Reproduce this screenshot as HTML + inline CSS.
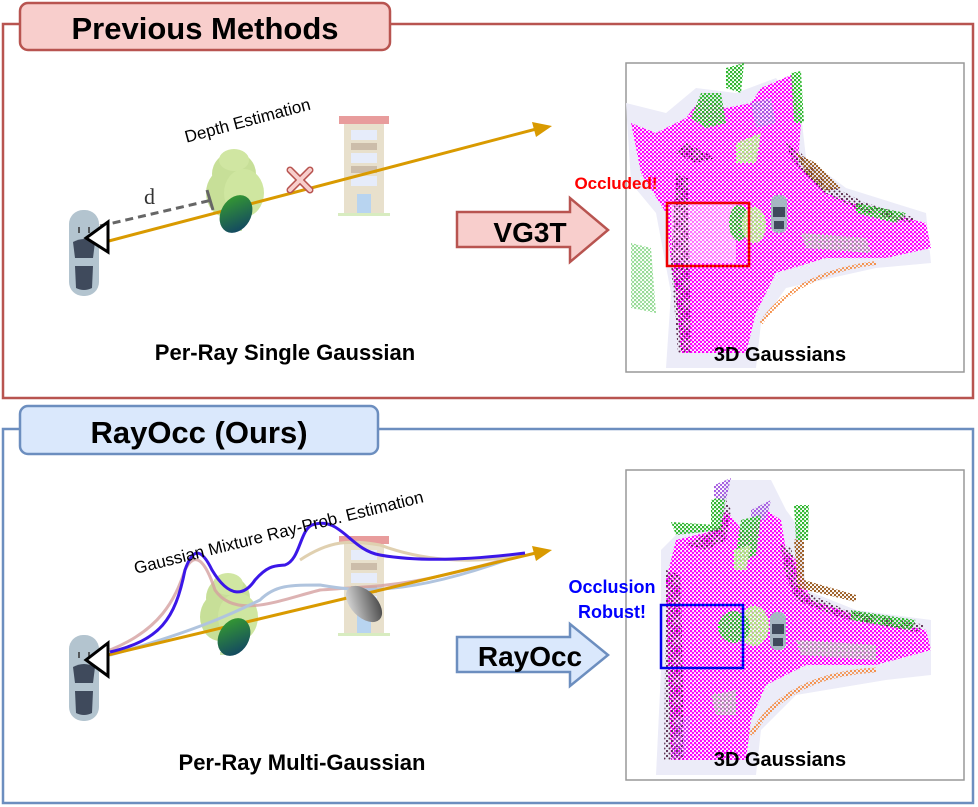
<!DOCTYPE html>
<html><head><meta charset="utf-8"><style>
body{margin:0;background:#fff;}
svg{display:block;font-family:"Liberation Sans","DejaVu Sans",sans-serif;}
</style></head><body>
<svg width="978" height="807" viewBox="0 0 978 807" xmlns="http://www.w3.org/2000/svg">
<defs>
<pattern id="pm" width="4" height="4" patternUnits="userSpaceOnUse"><circle cx="1" cy="1" r="1.3" fill="#f0f"/><circle cx="3" cy="3" r="1.2" fill="#f0f"/></pattern>
<pattern id="pg" width="4" height="4" patternUnits="userSpaceOnUse"><circle cx="1" cy="1" r="1.3" fill="#2eb82e"/><circle cx="3" cy="3" r="1.1" fill="#2eb82e"/></pattern>
<pattern id="plg" width="4" height="4" patternUnits="userSpaceOnUse"><circle cx="1" cy="1" r="1.3" fill="#a8e67a"/><circle cx="3" cy="3" r="1.1" fill="#a8e67a"/></pattern>
<pattern id="pb" width="5" height="5" patternUnits="userSpaceOnUse"><circle cx="1" cy="1" r="1.1" fill="#5a2d4e"/><circle cx="3.5" cy="3.5" r="1" fill="#5a2d4e"/></pattern>
<pattern id="pbr" width="4" height="4" patternUnits="userSpaceOnUse"><circle cx="1" cy="1" r="1.2" fill="#9a5a20"/><circle cx="3" cy="3" r="1.1" fill="#9a5a20"/></pattern>
<pattern id="pgr" width="4" height="4" patternUnits="userSpaceOnUse"><circle cx="1" cy="1" r="1.1" fill="#a0a0a0"/><circle cx="3" cy="3" r="1" fill="#a0a0a0"/></pattern>
<pattern id="por" width="4" height="4" patternUnits="userSpaceOnUse"><circle cx="1" cy="1" r="1.1" fill="#f58a40"/><circle cx="3" cy="3" r="1" fill="#f58a40"/></pattern>
<pattern id="ppu" width="4" height="4" patternUnits="userSpaceOnUse"><circle cx="1" cy="1" r="1.2" fill="#a55ae0"/><circle cx="3" cy="3" r="1.1" fill="#a55ae0"/></pattern>
<linearGradient id="gg" x1="0" y1="0" x2="1" y2="1"><stop offset="0" stop-color="#3aa52a"/><stop offset="1" stop-color="#0d3a6a"/></linearGradient>
<linearGradient id="gr" x1="0" y1="0" x2="1" y2="1"><stop offset="0" stop-color="#eee"/><stop offset="1" stop-color="#333"/></linearGradient>
<g id="car">
<rect x="-15" y="-42" width="30" height="86" rx="14" fill="#b3c4cf"/>
<path d="M-11,-10 Q0,-16 11,-10 L9,6 L-9,6Z" fill="#3f4a5c"/>
<path d="M-9,14 L9,14 L8,36 Q0,40 -8,36Z" fill="#3f4a5c"/>
<line x1="-5" y1="-25" x2="-5" y2="-19" stroke="#333" stroke-width="1.5"/><line x1="5" y1="-25" x2="5" y2="-19" stroke="#333" stroke-width="1.5"/>
</g>
<g id="minicar">
<rect x="-8" y="-18" width="16" height="38" rx="7" fill="#a6b6c2"/>
<rect x="-6" y="-6" width="12" height="10" fill="#3f4a5c"/>
<rect x="-5" y="8" width="10" height="8" fill="#3f4a5c"/>
</g>
<g id="tree">
<rect x="-4" y="20" width="7" height="22" fill="#c9968e"/>
<rect x="-8" y="40" width="16" height="3" fill="#cfe6b0"/>
<ellipse cx="0" cy="-14" rx="22" ry="22" fill="#c7df98"/>
<ellipse cx="-8" cy="5" rx="20" ry="24" fill="#c7df98"/>
<ellipse cx="10" cy="5" rx="20" ry="24" fill="#cfe6a0"/>
<ellipse cx="0" cy="-28" rx="15" ry="11" fill="#d0e6a2"/>
</g>
<g id="bld">
<rect x="-25" y="0" width="50" height="8" fill="#e89c9c"/>
<rect x="-20" y="8" width="40" height="90" fill="#e8e0cc"/>
<rect x="-13" y="14" width="26" height="10" fill="#e6ecfa"/>
<rect x="-13" y="27" width="26" height="7" fill="#ccbdaa"/>
<rect x="-13" y="37" width="26" height="10" fill="#e6ecfa"/>
<rect x="-13" y="50" width="26" height="7" fill="#ccbdaa"/>
<rect x="-13" y="60" width="26" height="10" fill="#e6ecfa"/>
<rect x="-7" y="78" width="14" height="20" fill="#b8d4f0"/>
<rect x="-26" y="97" width="52" height="3" fill="#d8ecc0"/>
</g>
<g id="cloud1">
<polygon points="0,40 40,50 70,25 110,30 150,15 175,50 180,95 220,125 300,150 305,200 250,205 160,225 135,260 130,305 40,305 45,230 30,150 5,120" fill="#ececf8"/>
<polygon points="5,60 30,70 60,55 75,35 100,45 125,40 135,25 165,12 175,60 172,100 200,130 240,145 300,160 305,185 260,195 200,195 150,210 130,250 120,290 55,290 50,230 45,200 40,150 15,110" fill="#fff"/>
<polygon points="5,60 30,70 60,55 75,35 100,45 125,40 135,25 165,12 175,60 172,100 200,130 240,145 300,160 305,185 260,195 200,195 150,210 130,250 120,290 55,290 50,230 45,200 40,150 15,110" fill="url(#pm)"/>
<polygon points="45,140 110,140 110,200 45,200" fill="#fff" opacity="0.45"/>
<polygon points="60,80 90,95 70,100 50,90" fill="url(#pb)"/>
<polygon points="50,110 62,115 65,290 52,290 45,200" fill="url(#pb)"/>
<polygon points="160,80 175,90 200,120 240,140 290,155 285,160 235,148 195,128 165,95" fill="url(#pb)"/>
<polygon points="170,90 190,100 215,125 200,128 180,110" fill="url(#pbr)"/>
<polygon points="75,30 95,30 100,60 80,65 65,55" fill="url(#pg)"/>
<polygon points="100,5 118,0 115,30 100,25" fill="url(#pg)"/>
<polygon points="165,10 175,8 178,60 168,60" fill="url(#pg)"/>
<polygon points="125,40 145,35 150,60 130,65" fill="url(#ppu)"/>
<polygon points="230,140 280,150 270,160 230,150" fill="url(#pg)"/>
<ellipse cx="113" cy="160" rx="10" ry="18" fill="url(#pg)"/>
<ellipse cx="128" cy="162" rx="12" ry="18" fill="url(#plg)"/>
<polygon points="110,80 135,70 130,100 110,100" fill="url(#plg)"/>
<polygon points="175,170 240,175 245,190 180,185" fill="url(#pgr)"/>
<path d="M135,260 Q170,210 250,200" fill="none" stroke="url(#por)" stroke-width="4"/>
<polygon points="5,180 25,185 30,250 5,245" fill="url(#pg)" opacity="0.5"/>
<use href="#minicar" x="153" y="150"/>
</g>
<g id="cloud2">
<polygon points="35,80 55,60 90,60 100,10 145,10 160,40 175,60 180,120 230,140 305,150 305,205 260,210 170,225 135,260 130,305 30,305 35,200" fill="#ececf8"/>
<polygon points="50,70 90,60 100,40 120,65 140,40 155,50 160,80 170,90 185,130 230,145 300,160 305,180 250,195 180,195 140,215 125,250 120,290 45,290 42,200 40,110" fill="#fff"/>
<polygon points="50,70 90,60 100,40 120,65 140,40 155,50 160,80 170,90 185,130 230,145 300,160 305,180 250,195 180,195 140,215 125,250 120,290 45,290 42,200 40,110" fill="url(#pm)"/>
<polygon points="40,100 55,105 58,290 38,290" fill="url(#pb)"/>
<polygon points="60,75 95,55 100,30 105,40 100,70 80,80" fill="url(#pb)"/>
<polygon points="155,75 165,78 175,120 220,140 300,155 290,162 215,148 170,130 158,100" fill="url(#pb)"/>
<polygon points="168,70 178,65 178,110 230,125 230,132 172,118" fill="url(#pbr)"/>
<polygon points="45,52 90,55 95,60 50,65" fill="url(#pg)"/>
<polygon points="85,30 100,25 95,60 85,58" fill="url(#pg)"/>
<polygon points="88,15 105,8 100,30 88,28" fill="url(#ppu)"/>
<polygon points="125,40 145,30 140,50 125,50" fill="url(#ppu)"/>
<polygon points="115,50 135,45 130,85 108,95" fill="url(#pg)"/>
<polygon points="108,80 125,75 120,100 108,100" fill="url(#plg)"/>
<polygon points="168,35 183,35 182,70 170,70" fill="url(#pg)"/>
<polygon points="225,140 290,150 285,160 225,150" fill="url(#pg)"/>
<ellipse cx="128" cy="156" rx="15" ry="20" fill="url(#plg)"/>
<circle cx="108" cy="157" r="16" fill="url(#pg)"/>
<polygon points="170,170 250,175 250,190 175,185" fill="url(#pgr)"/>
<polygon points="85,225 110,220 110,245 90,245" fill="url(#pgr)"/>
<path d="M125,265 Q160,205 250,200" fill="none" stroke="url(#por)" stroke-width="5"/>
<polygon points="50,250 65,245 60,285 45,290" fill="url(#ppu)" opacity="0.4"/>
<use href="#minicar" x="152" y="160"/>
</g>
</defs>

<rect x="3" y="24" width="970" height="374" fill="#fff" stroke="#b85450" stroke-width="2.5"/>
<rect x="20" y="3" width="370" height="47" rx="8" fill="#f8cecc" stroke="#b85450" stroke-width="2.5"/>
<text x="205" y="39" font-size="31" font-weight="bold" text-anchor="middle">Previous Methods</text>

<use href="#tree" x="234" y="188"/>
<use href="#bld" x="364" y="116"/>
<line x1="105" y1="242" x2="540" y2="128" stroke="#d99a00" stroke-width="3"/>
<polygon points="552,126 532,122 536,137" fill="#d99a00"/>
<line x1="100" y1="226" x2="212" y2="200" stroke="#666" stroke-width="3" stroke-dasharray="8,5"/>
<line x1="207" y1="190" x2="213" y2="210" stroke="#666" stroke-width="3"/>
<text x="144" y="204" font-size="22" font-family="Liberation Serif" fill="#333">d</text>
<ellipse cx="236" cy="214" rx="15" ry="20" fill="url(#gg)" transform="rotate(30 236 214)"/>
<g stroke="#b85450" stroke-width="7" stroke-linecap="round"><line x1="290" y1="170" x2="310" y2="190"/><line x1="310" y1="170" x2="290" y2="190"/></g>
<g stroke="#f8cecc" stroke-width="4" stroke-linecap="round"><line x1="290" y1="170" x2="310" y2="190"/><line x1="310" y1="170" x2="290" y2="190"/></g>
<text x="249" y="126" font-size="17" text-anchor="middle" transform="rotate(-15 249 126)">Depth Estimation</text>
<use href="#car" x="84" y="252"/>
<polygon points="108,222 86,238 108,252" fill="#fff" stroke="#000" stroke-width="3"/>
<text x="285" y="360" font-size="22" font-weight="bold" text-anchor="middle">Per-Ray Single Gaussian</text>

<polygon points="457,212 570,212 570,198 608,230 570,262 570,247 457,247" fill="#f8cecc" stroke="#b85450" stroke-width="2.5"/>
<text x="530" y="242" font-size="28" font-weight="bold" text-anchor="middle">VG3T</text>

<rect x="626" y="63" width="338" height="309" fill="#fff" stroke="#999" stroke-width="1.5"/>
<use href="#cloud1" x="626" y="63"/>
<rect x="667" y="203" width="82" height="63" fill="none" stroke="#e00" stroke-width="2.5"/>
<text x="616" y="189" font-size="17" font-weight="bold" fill="#f00" text-anchor="middle">Occluded!</text>
<text x="780" y="361" font-size="20" font-weight="bold" text-anchor="middle">3D Gaussians</text>

<rect x="3" y="429" width="970" height="374" fill="#fff" stroke="#6c8ebf" stroke-width="2.5"/>
<rect x="20" y="406" width="358" height="48" rx="8" fill="#dae8fc" stroke="#6c8ebf" stroke-width="2.5"/>
<text x="199" y="443" font-size="31" font-weight="bold" text-anchor="middle">RayOcc (Ours)</text>

<use href="#tree" x="228" y="612"/>
<use href="#bld" x="364" y="536"/>
<path d="M110,650 C160,630 175,600 185,570 C195,550 205,560 215,590 C235,620 280,600 320,590 C380,585 400,590 520,555" fill="none" stroke="#d4a0a0" stroke-width="3" opacity="0.8"/>
<path d="M110,655 C200,630 240,610 260,600 C275,585 290,585 320,585 C350,590 400,600 520,555" fill="none" stroke="#b0c4de" stroke-width="3"/>
<path d="M300,560 C330,540 350,540 380,545 C420,560 470,565 520,555" fill="none" stroke="#e0d0b0" stroke-width="3"/>
<line x1="108" y1="655" x2="540" y2="552" stroke="#d99a00" stroke-width="3"/>
<polygon points="552,550 532,546 536,561" fill="#d99a00"/>
<path d="M110,652 C160,640 175,620 185,570 C192,550 200,545 212,570 C230,600 245,595 255,580 C268,565 275,566 285,565 C300,560 300,530 312,525 C340,515 350,550 380,555 C420,562 470,560 525,553" fill="none" stroke="#3b17e8" stroke-width="3"/>
<ellipse cx="234" cy="637" rx="15" ry="20" fill="url(#gg)" transform="rotate(30 234 637)"/>
<ellipse cx="364" cy="604" rx="13" ry="22" fill="url(#gr)" transform="rotate(-45 364 604)"/>
<text x="280" y="538" font-size="17" text-anchor="middle" transform="rotate(-14 280 538)">Gaussian Mixture Ray-Prob. Estimation</text>
<use href="#car" x="84" y="677"/>
<polygon points="108,643 86,660 108,676" fill="#fff" stroke="#000" stroke-width="3"/>
<text x="302" y="770" font-size="22" font-weight="bold" text-anchor="middle">Per-Ray Multi-Gaussian</text>

<polygon points="457,637 570,637 570,624 608,655 570,686 570,672 457,672" fill="#dae8fc" stroke="#6c8ebf" stroke-width="2.5"/>
<text x="530" y="666" font-size="28" font-weight="bold" text-anchor="middle">RayOcc</text>

<rect x="626" y="470" width="338" height="310" fill="#fff" stroke="#999" stroke-width="1.5"/>
<use href="#cloud2" x="626" y="470"/>
<rect x="661" y="605" width="82" height="63" fill="none" stroke="#00e" stroke-width="2.5"/>
<text x="612" y="593" font-size="18" font-weight="bold" fill="#00f" text-anchor="middle">Occlusion</text>
<text x="612" y="618" font-size="18" font-weight="bold" fill="#00f" text-anchor="middle">Robust!</text>
<text x="780" y="766" font-size="20" font-weight="bold" text-anchor="middle">3D Gaussians</text>
</svg>
</body></html>
